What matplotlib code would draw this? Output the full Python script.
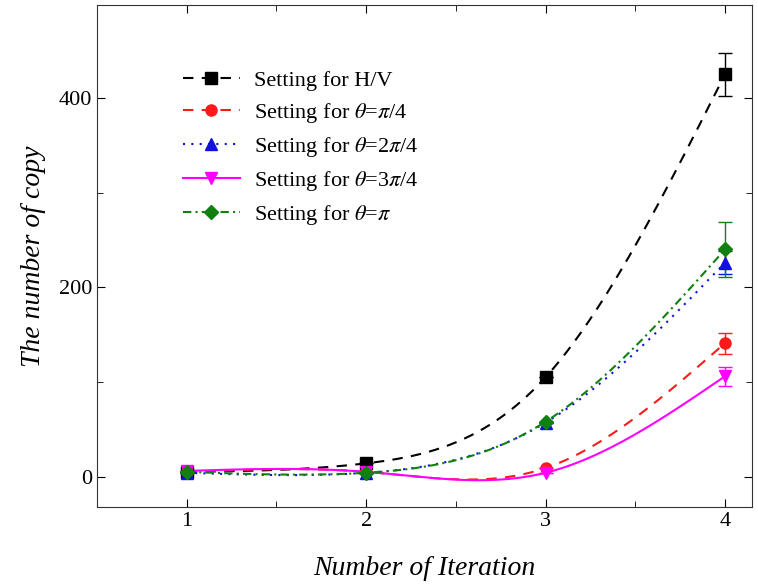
import numpy as np
import matplotlib
matplotlib.use('Agg')
import matplotlib.pyplot as plt

# data
iteration = [1, 2, 3, 4]
hv = [5, 14, 105, 425]
hv_err = [0, 0, 0, 23]
pi4 = [5, 5, 9, 141]
pi4_err = [0, 0, 0, 11]
pi24 = [4, 4, 57, 226]
pi24_err = [0, 0, 0, 12]
pi34 = [6, 5, 4, 106]
pi34_err = [0, 0, 0, 10]
pi1 = [5, 4, 58, 240]
pi1_err = [0, 0, 0, 29]

labels = ['Setting for H/V',
          r'Setting for $\theta$=$\pi$/4',
          r'Setting for $\theta$=2$\pi$/4',
          r'Setting for $\theta$=3$\pi$/4',
          r'Setting for $\theta$=$\pi$']


def natural_spline(x, y, xs):
    # natural cubic spline through the points
    x = np.asarray(x, float)
    y = np.asarray(y, float)
    n = len(x)
    h = np.diff(x)
    A = np.zeros((n, n))
    b = np.zeros(n)
    A[0, 0] = A[-1, -1] = 1
    for i in range(1, n - 1):
        A[i, i - 1] = h[i - 1]
        A[i, i] = 2 * (h[i - 1] + h[i])
        A[i, i + 1] = h[i]
        b[i] = 6 * ((y[i + 1] - y[i]) / h[i] - (y[i] - y[i - 1]) / h[i - 1])
    M = np.linalg.solve(A, b)
    idx = np.clip(np.searchsorted(x, xs) - 1, 0, n - 2)
    x0, x1 = x[idx], x[idx + 1]
    hh = x1 - x0
    t0, t1 = x1 - xs, xs - x0
    return (M[idx] * t0 ** 3 + M[idx + 1] * t1 ** 3) / (6 * hh) \
        + (y[idx] / hh - M[idx] * hh / 6) * t0 + (y[idx + 1] / hh - M[idx + 1] * hh / 6) * t1


plt.rcParams['font.family'] = ['Liberation Serif', 'DejaVu Serif']
plt.rcParams['mathtext.fontset'] = 'stix'

fig = plt.figure(figsize=(7.58, 5.88), dpi=100)
ax = fig.add_axes([0.128, 0.138, 0.864, 0.853])

series = [
    (hv, hv_err, 'black', 's', (0, (5, 4)), labels[0]),
    (pi4, pi4_err, '#ff1a1a', 'o', (0, (5, 4)), labels[1]),
    (pi24, pi24_err, '#1010e0', '^', (0, (1, 3)), labels[2]),
    (pi34, pi34_err, '#ff00ff', 'v', '-', labels[3]),
    (pi1, pi1_err, '#108010', 'D', (0, (4, 2, 1, 2)), labels[4]),
]

xs = np.linspace(1, 4, 300)
handles = []
for y, err, c, m, ls, lab in series:
    ax.plot(xs, natural_spline(iteration, y, xs), color=c, linestyle=ls, linewidth=1.5)
    ms = 8 if m != 'D' else 7
    ax.errorbar(iteration, y, yerr=err, fmt=m, color=c, markersize=ms,
                elinewidth=1, capsize=5, capthick=1)
    h, = ax.plot([], [], color=c, linestyle=ls, marker=m, markersize=ms,
                 linewidth=1.5, label=lab)
    handles.append(h)

ax.set_xlim(0.5, 4.15)
ax.set_ylim(-32, 498)
ax.set_xticks([1, 2, 3, 4])
ax.set_xticks([1.5, 2.5, 3.5], minor=True)
ax.set_yticks([0, 200, 400])
ax.set_yticks([100, 300], minor=True)
ax.tick_params(which='both', direction='in', top=True, right=True, labelsize=16)
ax.tick_params(which='major', length=6)
ax.tick_params(which='minor', length=4)
for s in ax.spines.values():
    s.set_color('#333333')

ax.set_xlabel('Number of Iteration', fontsize=20, style='italic', labelpad=18)
ax.set_ylabel('The number of copy', fontsize=20, style='italic', labelpad=9)

ax.legend(handles=handles, loc='upper left', bbox_to_anchor=(0.10, 0.91), frameon=False,
          fontsize=16, handlelength=2.6, labelspacing=0.45, handletextpad=0.6)

fig.savefig('out.png', dpi=100)
